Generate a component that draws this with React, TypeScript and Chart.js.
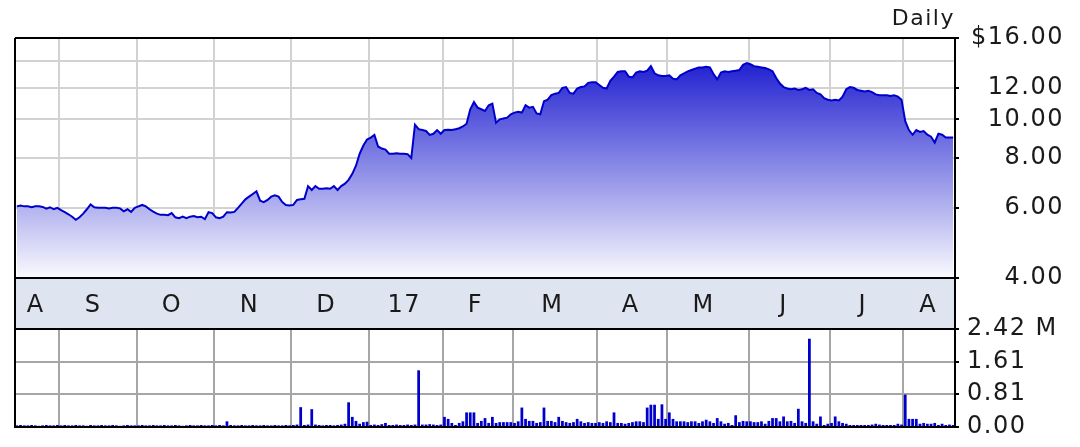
import React, { useEffect, useRef } from 'react';
import { Chart, registerables } from 'chart.js';

Chart.register(...registerables);
Chart.defaults.font.family = "'DejaVu Sans', Verdana, sans-serif";

// Daily closing prices, one per trading day (16 Aug 2016 .. 18 Aug 2017)
const prices = [
  6.05, 6.08, 6.05, 6.05, 6.02, 6.05, 6.05, 6.03, 5.97, 6.02,
  5.95, 6.0, 5.92, 5.85, 5.78, 5.7, 5.6, 5.68, 5.8, 5.95,
  6.12, 6.02, 6.0, 6.0, 6.0, 5.98, 6.0, 6.0, 5.98, 5.88,
  5.95, 5.86, 6.0, 6.05, 6.1, 6.05, 5.95, 5.87, 5.8, 5.76,
  5.76, 5.75, 5.82, 5.68, 5.65, 5.7, 5.65, 5.7, 5.72, 5.68,
  5.7, 5.62, 5.85, 5.82, 5.68, 5.65, 5.7, 5.85, 5.84, 5.86,
  6.0, 6.15, 6.3, 6.4, 6.5, 6.6, 6.25, 6.2, 6.28, 6.4,
  6.45, 6.4, 6.2, 6.1, 6.08, 6.1, 6.28, 6.3, 6.32, 6.8,
  6.65, 6.8, 6.7, 6.7, 6.72, 6.7, 6.8, 6.65, 6.8, 6.9,
  7.05, 7.3, 7.65, 8.2, 8.6, 8.9, 9.0, 9.14, 8.55, 8.45,
  8.4, 8.2, 8.2, 8.22, 8.2, 8.2, 8.18, 8.0, 9.7, 9.45,
  9.4, 9.35, 9.14, 9.2, 9.4, 9.2, 9.4, 9.42, 9.4, 9.45,
  9.5, 9.6, 9.75, 10.6, 11.05, 10.7, 10.6, 10.5, 10.85, 10.95,
  9.8, 10.0, 10.05, 10.1, 10.3, 10.4, 10.45, 10.4, 10.85, 10.7,
  10.75, 10.35, 10.3, 11.1, 11.2, 11.5, 11.6, 11.65, 12.0, 12.05,
  11.65, 11.6, 11.95, 12.05, 12.1, 12.35, 12.4, 12.4, 12.2, 12.0,
  11.95, 12.5, 12.8, 13.15, 13.2, 13.2, 12.8, 12.75, 13.1, 13.2,
  13.15, 13.25, 13.6, 13.05, 12.9, 12.85, 12.85, 12.9, 12.65, 12.6,
  12.9, 13.05, 13.2, 13.3, 13.4, 13.5, 13.5, 13.55, 13.5, 13.0,
  12.6, 13.1, 13.2, 13.15, 13.2, 13.25, 13.3, 13.7, 13.85, 13.75,
  13.6, 13.55, 13.5, 13.45, 13.35, 13.2, 12.7, 12.3, 12.05, 11.95,
  11.9, 11.95, 11.85, 11.9, 12.0, 11.85, 11.9, 11.65, 11.55, 11.3,
  11.2, 11.15, 11.2, 11.15, 11.4, 11.9, 12.05, 12.0, 11.85, 11.8,
  11.75, 11.8, 11.7, 11.55, 11.5, 11.5, 11.5, 11.45, 11.5, 11.4,
  11.2, 9.9, 9.4, 9.15, 9.4, 9.3, 9.35, 9.15, 9.05, 8.75,
  9.2, 9.15, 9.0, 9.0, 9.0,
];

// Daily volume, millions of shares
const volumes = [
  0.04, 0.05, 0.04, 0.04, 0.05, 0.04, 0.03, 0.04, 0.05, 0.04,
  0.04, 0.05, 0.04, 0.05, 0.04, 0.04, 0.05, 0.04, 0.04, 0.03,
  0.05, 0.04, 0.04, 0.05, 0.04, 0.04, 0.05, 0.04, 0.03, 0.04,
  0.05, 0.04, 0.04, 0.04, 0.05, 0.04, 0.04, 0.05, 0.04, 0.04,
  0.05, 0.04, 0.04, 0.05, 0.04, 0.03, 0.04, 0.05, 0.04, 0.04,
  0.05, 0.04, 0.04, 0.05, 0.04, 0.05, 0.04, 0.14, 0.05, 0.04,
  0.04, 0.05, 0.04, 0.04, 0.05, 0.04, 0.04, 0.05, 0.04, 0.04,
  0.05, 0.04, 0.04, 0.05, 0.04, 0.05, 0.06, 0.49, 0.05, 0.06,
  0.44, 0.06, 0.05, 0.04, 0.05, 0.05, 0.04, 0.05, 0.06, 0.08,
  0.61, 0.25, 0.15, 0.08, 0.12, 0.13, 0.05, 0.06, 0.05, 0.07,
  0.1, 0.05, 0.05, 0.06, 0.05, 0.05, 0.06, 0.05, 0.06, 1.40,
  0.06, 0.06, 0.07, 0.06, 0.05, 0.06, 0.25, 0.2, 0.1, 0.05,
  0.1, 0.14, 0.36, 0.36, 0.36, 0.1, 0.15, 0.22, 0.1, 0.25,
  0.1, 0.12, 0.12, 0.12, 0.12, 0.1, 0.14, 0.48, 0.2, 0.15,
  0.15, 0.1, 0.12, 0.48, 0.15, 0.15, 0.12, 0.25, 0.15, 0.12,
  0.1, 0.12, 0.2, 0.14, 0.1, 0.12, 0.1, 0.1, 0.12, 0.1,
  0.14, 0.12, 0.36, 0.1, 0.1, 0.08, 0.1, 0.12, 0.14, 0.14,
  0.12, 0.48, 0.55, 0.55, 0.2, 0.56, 0.2, 0.36, 0.2, 0.14,
  0.14, 0.14, 0.12, 0.14, 0.14, 0.1, 0.14, 0.18, 0.14, 0.1,
  0.22, 0.14, 0.08, 0.1, 0.05, 0.29, 0.12, 0.15, 0.14, 0.14,
  0.12, 0.12, 0.14, 0.08, 0.15, 0.22, 0.22, 0.14, 0.26, 0.14,
  0.15, 0.1, 0.45, 0.14, 0.1, 2.18, 0.14, 0.08, 0.26, 0.05,
  0.08, 0.1, 0.26, 0.14, 0.1, 0.08, 0.05, 0.05, 0.05, 0.05,
  0.05, 0.05, 0.06, 0.08, 0.06, 0.05, 0.05, 0.05, 0.05, 0.08,
  0.06, 0.80, 0.2, 0.2, 0.2, 0.08, 0.1, 0.08, 0.08, 0.1,
  0.05, 0.08, 0.05, 0.06, 0.05,
];

// Month labels (placed mid-month, in trading-day index units)
const monthLabels = ['A', 'S', 'O', 'N', 'D', '17', 'F', 'M', 'A', 'M', 'J', 'J', 'A'];
const monthLabelPos = [5.1, 20.7, 42.1, 63.1, 83.9, 105.1, 124.4, 145.3, 166.5, 186.3, 208.0, 229.5, 247.2];
// Month boundaries (between last and first trading day of months)
const monthBoundaries = [11.5, 32.5, 53.5, 74.5, 95.5, 115.5, 134.5, 157.5, 176.5, 198.5, 220.5, 240.5];

const priceTicks = [4, 6, 8, 10, 12, 14, 16];
const priceTickLabels = ['4.00', '6.00', '8.00', '10.00', '12.00', '', '$16.00'];
const volTicks = [0, 0.81, 1.61, 2.42];
const volTickLabels = ['0.00', '0.81', '1.61', '2.42 M'];

const X_MIN = -0.5;
const X_MAX = prices.length - 0.5;
const TEXT = '#1a1a1a';
const LETTER_SPACING = '1.5px';

const spacingPlugin = {
  id: 'spacing',
  beforeUpdate(chart: any) { chart.ctx.letterSpacing = LETTER_SPACING; },
  beforeDraw(chart: any) { chart.ctx.letterSpacing = LETTER_SPACING; },
};

const bandPlugin = {
  id: 'band',
  beforeDraw(chart: any) {
    const { ctx, chartArea: a, height } = chart;
    ctx.save();
    ctx.fillStyle = '#dfe5f0';
    ctx.fillRect(a.left, a.bottom, a.right - a.left, height - a.bottom);
    ctx.restore();
  },
};

const makeFrame = (extendDown: boolean) => ({
  id: 'frame',
  afterDraw(chart: any) {
    const { ctx, chartArea: a, height } = chart;
    const bottom = extendDown ? height : a.bottom;
    ctx.save();
    ctx.strokeStyle = '#000';
    ctx.lineWidth = 2;
    ctx.beginPath();
    ctx.moveTo(a.left, a.top); ctx.lineTo(a.right, a.top);
    ctx.moveTo(a.left, a.top); ctx.lineTo(a.left, bottom);
    ctx.moveTo(a.right, a.top); ctx.lineTo(a.right, bottom);
    ctx.moveTo(a.left, a.bottom); ctx.lineTo(a.right, a.bottom);
    ctx.stroke();
    ctx.restore();
  },
});

const xTicks = [
  ...monthBoundaries.map((v) => ({ value: v, label: '' })),
  ...monthLabelPos.map((v, i) => ({ value: v, label: monthLabels[i] })),
].sort((a, b) => a.value - b.value);

const areaFill = (c: any) => {
  const { chart } = c;
  const area = chart.chartArea;
  if (!area) return 'rgba(80,80,220,0.5)';
  const g = chart.ctx.createLinearGradient(0, area.top, 0, area.bottom);
  g.addColorStop(0, '#0808cc');
  g.addColorStop(1, '#fafafe');
  return g;
};

const AXIS_W = 109;
const RIGHT_PAD = 16;

export default function App() {
  const priceRef = useRef<HTMLCanvasElement>(null);
  const volRef = useRef<HTMLCanvasElement>(null);

  useEffect(() => {
    const pc = new Chart(priceRef.current as HTMLCanvasElement, {
      type: 'line',
      data: {
        datasets: [
          {
            data: prices.map((y, x) => ({ x, y })),
            borderColor: '#0000cc',
            borderWidth: 2,
            pointRadius: 0,
            tension: 0,
            fill: 'start',
            backgroundColor: areaFill,
          },
        ],
      },
      options: {
        responsive: false,
        animation: false,
        events: [],
        devicePixelRatio: 1,
        layout: { padding: { left: 15, right: RIGHT_PAD, top: 0, bottom: 0 } },
        plugins: {
          legend: { display: false },
          tooltip: { enabled: false },
          title: {
            display: true,
            text: 'Daily',
            align: 'end',
            fullSize: false,
            color: TEXT,
            font: { size: 22, weight: 'normal', lineHeight: 1.2 },
            padding: { top: 6.5, bottom: 5.1 },
          },
        },
        scales: {
          x: {
            type: 'linear',
            offset: false,
            min: X_MIN,
            max: X_MAX,
            afterBuildTicks: (s: any) => { s.ticks = xTicks.map((t) => ({ value: t.value })); },
            afterFit: (s: any) => { s.height = 51; },
            ticks: {
              autoSkip: false,
              maxRotation: 0,
              minRotation: 0,
              padding: 13.5,
              color: TEXT,
              font: { size: 24, lineHeight: 1.2 },
              callback: (_v: any, i: number) => xTicks[i].label,
            },
            grid: {
              offset: false,
              color: (c: any) => (c.tick && monthBoundaries.includes(c.tick.value) ? '#d2d2d2' : 'rgba(0,0,0,0)'),
              lineWidth: 2,
              drawTicks: false,
            },
            border: { display: true, color: '#000', width: 2 },
          },
          y: {
            type: 'logarithmic',
            position: 'right',
            min: 4,
            max: 16,
            afterBuildTicks: (s: any) => { s.ticks = priceTicks.map((v) => ({ value: v })); },
            afterFit: (s: any) => { s.width = AXIS_W; },
            ticks: {
              crossAlign: 'far',
              padding: 4,
              color: TEXT,
              font: { size: 24, lineHeight: 1 },
              callback: (_v: any, i: number) => priceTickLabels[i],
            },
            grid: {
              color: (c: any) => (c.tick && (c.tick.value === 4 || c.tick.value === 16) ? 'rgba(0,0,0,0)' : '#d2d2d2'),
              lineWidth: 2,
              tickLength: 4,
              tickWidth: 2,
              tickColor: (c: any) => (c.tick && c.tick.value === 14 ? 'rgba(0,0,0,0)' : '#000'),
            },
            border: { display: true, color: '#000', width: 2 },
          },
        },
      } as any,
      plugins: [spacingPlugin, bandPlugin, makeFrame(true)],
    });

    const vc = new Chart(volRef.current as HTMLCanvasElement, {
      type: 'bar',
      data: {
        datasets: [
          {
            data: volumes.map((y, x) => ({ x, y })),
            backgroundColor: '#0000cc',
            barPercentage: 0.75,
            categoryPercentage: 1,
          },
        ],
      },
      options: {
        responsive: false,
        animation: false,
        events: [],
        devicePixelRatio: 1,
        layout: { padding: { left: 15, right: RIGHT_PAD, top: 29, bottom: 13 } },
        plugins: { legend: { display: false }, tooltip: { enabled: false } },
        scales: {
          x: {
            type: 'linear',
            offset: false,
            min: X_MIN,
            max: X_MAX,
            afterBuildTicks: (s: any) => { s.ticks = monthBoundaries.map((v) => ({ value: v })); },
            afterFit: (s: any) => { s.height = 0; },
            ticks: { display: false },
            grid: { offset: false, color: '#a6a6a6', lineWidth: 2, drawTicks: false },
            border: { display: true, color: '#000', width: 2 },
          },
          y: {
            position: 'right',
            min: 0,
            max: 2.42,
            afterBuildTicks: (s: any) => { s.ticks = volTicks.map((v) => ({ value: v })); },
            afterFit: (s: any) => { s.width = AXIS_W; },
            ticks: {
              padding: 8,
              color: TEXT,
              font: { size: 24, lineHeight: 1 },
              callback: (_v: any, i: number) => volTickLabels[i],
            },
            grid: {
              color: (c: any) => (c.tick && (c.tick.value === 0 || c.tick.value === 2.42) ? 'rgba(0,0,0,0)' : '#a6a6a6'),
              lineWidth: 2,
              tickLength: 4,
              tickWidth: 2,
              tickColor: '#000',
            },
            border: { display: true, color: '#000', width: 2 },
          },
        },
      } as any,
      plugins: [spacingPlugin, makeFrame(false)],
    });

    return () => {
      pc.destroy();
      vc.destroy();
    };
  }, []);

  return (
    <div style={{ position: 'absolute', left: 0, top: 0, width: 1080, height: 447, overflow: 'hidden', background: '#fff' }}>
      <canvas
        ref={priceRef}
        width={1080}
        height={329}
        style={{ position: 'absolute', left: 0, top: 0, width: 1080, height: 329, display: 'block' }}
      />
      <canvas
        ref={volRef}
        width={1080}
        height={147}
        style={{ position: 'absolute', left: 0, top: 300, width: 1080, height: 147, display: 'block' }}
      />
    </div>
  );
}
